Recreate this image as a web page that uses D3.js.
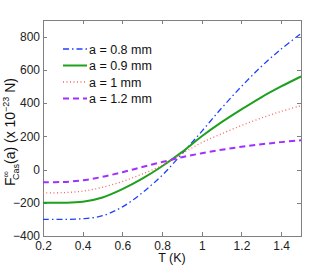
<html>
<head>
<meta charset="utf-8">
<style>
  body { margin: 0; background: white; font-family: "Liberation Sans", Arial, Helvetica, sans-serif; }
  .axis path, .axis line { fill: none; stroke: #808080; shape-rendering: crispEdges; }
  .axis text { font-size: 12px; fill: #222; }
</style>
</head>
<body>
<div id="chart"></div>
<script src="https://cdnjs.cloudflare.com/ajax/libs/d3/7.8.5/d3.min.js"></script>
<script>
// data
var temps = [0.2, 0.3, 0.4, 0.5, 0.6, 0.7, 0.8, 0.9, 1.0, 1.1, 1.2, 1.3, 1.4, 1.5];
var f08  = [-300, -300, -296, -278, -225, -140, -35, 95, 230, 370, 500, 620, 725, 818];
var f09  = [-200, -200, -194, -168, -118, -55, 20, 105, 200, 285, 362, 435, 500, 560];
var f10  = [-140, -139, -130, -107, -72, -27, 25, 95, 162, 215, 265, 310, 350, 384];
var f12  = [-76, -75, -65, -44, -16, 15, 45, 74, 98, 119, 137, 152, 165, 176];
var labels = ["a = 0.8 mm", "a = 0.9 mm", "a = 1 mm", "a = 1.2 mm"];
var xTicks = [0.2, 0.4, 0.6, 0.8, 1, 1.2, 1.4];
var yTicks = [-400, -200, 0, 200, 400, 600, 800];

var series = [
  {name: labels[0], vals: f08, color: "#2040ff", dash: "6,3,1.5,3", w: 1.3},
  {name: labels[1], vals: f09, color: "#1ea01e", dash: null, w: 2},
  {name: labels[2], vals: f10, color: "#ff6060", dash: "1,2.5", w: 1.3},
  {name: labels[3], vals: f12, color: "#a030ff", dash: "6,4", w: 2}
];

var W = 332, H = 267;
var margin = {top: 20, right: 31, bottom: 31, left: 43};
var width = W - margin.left - margin.right;
var height = H - margin.top - margin.bottom;

var svg = d3.select("#chart").append("svg")
  .attr("width", W).attr("height", H);
var g = svg.append("g")
  .attr("transform", "translate(" + margin.left + "," + margin.top + ")");

var x = d3.scaleLinear().domain([0.2, 1.5]).range([0, width]);
var y = d3.scaleLinear().domain([-400, 900]).range([height, 0]);

// box with ticks on all sides (matlab style)
g.append("g").attr("class", "axis")
  .attr("transform", "translate(0," + height + ")")
  .call(d3.axisBottom(x).tickValues(xTicks).tickSizeInner(-4).tickSizeOuter(0).tickPadding(5)
    .tickFormat(function(d) { return d; }));
g.append("g").attr("class", "axis")
  .call(d3.axisTop(x).tickValues(xTicks).tickSizeInner(-4).tickSizeOuter(0).tickFormat(""));
g.append("g").attr("class", "axis")
  .call(d3.axisLeft(y).tickValues(yTicks).tickSizeInner(-4).tickSizeOuter(0).tickPadding(3)
    .tickFormat(function(d) { return d < 0 ? "\u2212" + (-d) : d; }));
g.append("g").attr("class", "axis")
  .attr("transform", "translate(" + width + ",0)")
  .call(d3.axisRight(y).tickValues(yTicks).tickSizeInner(-4).tickSizeOuter(0).tickFormat(""));

var line = d3.line()
  .x(function(d, i) { return x(temps[i]); })
  .y(function(d) { return y(d); })
  .curve(d3.curveCatmullRom.alpha(0.5));

series.forEach(function(s) {
  g.append("path")
    .attr("d", line(s.vals))
    .attr("fill", "none")
    .attr("stroke", s.color)
    .attr("stroke-width", s.w)
    .attr("stroke-dasharray", s.dash);
});

// legend, no box
var leg = g.append("g").attr("transform", "translate(20,29)");
series.forEach(function(s, i) {
  var row = leg.append("g").attr("transform", "translate(0," + (i * 16.5) + ")");
  row.append("line")
    .attr("x1", 0).attr("x2", 24).attr("y1", 0).attr("y2", 0)
    .attr("stroke", s.color).attr("stroke-width", s.w)
    .attr("stroke-dasharray", s.dash);
  row.append("text")
    .attr("x", 26).attr("y", 4.5)
    .attr("font-size", "12.5px").attr("fill", "#111")
    .text(s.name);
});

// axis titles
svg.append("text")
  .attr("x", margin.left + width / 2).attr("y", 262)
  .attr("text-anchor", "middle").attr("font-size", "12.5px").attr("fill", "#111")
  .text("T (K)");

var yl = svg.append("text")
  .attr("transform", "translate(15," + (margin.top + height / 2 + 4) + ") rotate(-90)")
  .attr("text-anchor", "middle").attr("font-size", "14px").attr("fill", "#111");
yl.append("tspan").text("F");
yl.append("tspan").attr("font-size", "9px").attr("dy", -6).text("\u221E");
yl.append("tspan").attr("font-size", "9px").attr("dx", -9).attr("dy", 10).text("Cas");
yl.append("tspan").attr("dy", -4).text("(a) (x 10");
yl.append("tspan").attr("font-size", "9px").attr("dy", -6).text("\u221223");
yl.append("tspan").attr("dy", 6).text(" N)");
</script>
</body>
</html>
